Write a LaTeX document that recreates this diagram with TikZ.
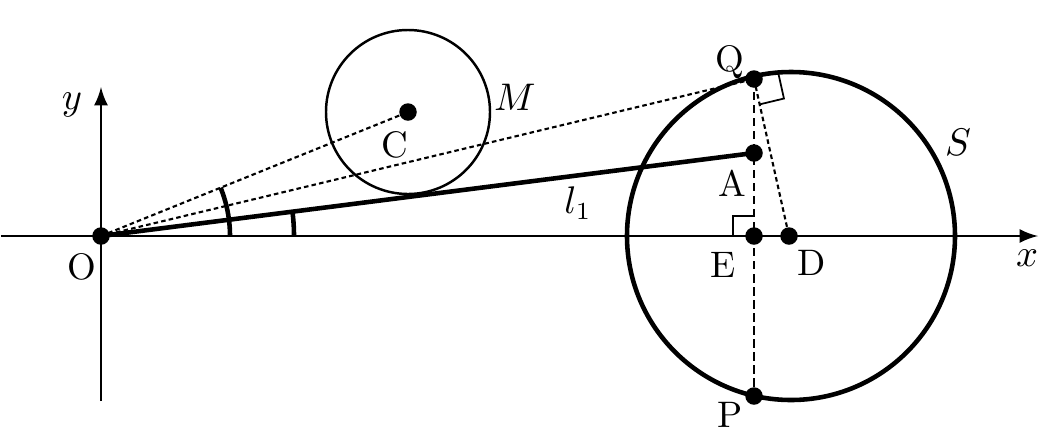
\documentclass[tikz,border=0pt]{standalone}
\usetikzlibrary{arrows,calc}
\begin{document}
\begin{tikzpicture}[>=latex,
  dot/.style={circle,fill=black,inner sep=0pt,minimum size=1.75mm},
  lbl/.style={font=\fontsize{10.5}{12}\selectfont, inner sep=1pt},
  guide/.style={dash pattern=on 1.3pt off 0.9pt, line width=0.6pt},
  vguide/.style={dash pattern=on 2.4pt off 1.3pt, line width=0.6pt}]
\useasboundingbox (-1.01,-2.08) rectangle (9.58,2.36);

% Axes
\path
(-1.0,0)  coordinate (xl)
(9.37,0)  coordinate (xr)
(0,-1.65) coordinate (yb)
(0,1.49)  coordinate (yt);
\draw[->, line width=0.8pt] (xl)--(xr);
\draw[->, line width=0.8pt] (yb)--(yt);

% Points
\path
(0,0)        coordinate (O)
(3.07,1.24)  coordinate (C)
(6.88,0)     coordinate (D)
(6.90,0)     coordinate (Sc)
(6.53,1.57)  coordinate (Q)
(6.53,0.83)  coordinate (A)
(6.53,0)     coordinate (E)
(6.53,-1.60) coordinate (P);

% Circles M and S
\draw[line width=0.7pt] (C) circle[radius=0.82];
\draw[line width=1.3pt] (Sc) circle[radius=1.64];

% Dashed lines
\draw[guide] (O)--(C);
\draw[guide] (O)--(Q);
\draw[vguide] (Q)--(P);
\draw[guide] (Q)--(D);

% l1
\draw[line width=1.3pt] (O)--(A);

% Right angles
\coordinate (qa) at ($(Q)!0.26cm!(D)$);
\coordinate (qb) at ($(Q)!-0.25cm!(O)$);
\draw[line width=0.5pt] (qa)--($(qa)+(qb)-(Q)$)--(qb);
\draw[line width=0.5pt] ($(E)+(-0.21,0)$)--++(0,0.2)--++(0.21,0);

% Angle marks
\draw[line width=1.3pt] (1.29,0) arc[start angle=0, end angle=21.99, radius=1.29];
\draw[line width=1.3pt] (1.93,0) arc[start angle=0, end angle=7.24, radius=1.93];

% Dots
\path
(O) node[dot] (dO) {}
(C) node[dot] (dC) {}
(Q) node[dot] (dQ) {}
(A) node[dot] (dA) {}
(E) node[dot] (dE) {}
(D) node[dot] (dD) {}
(P) node[dot] (dP) {};

% Labels
\path
(-0.29,1.31) node[lbl] (ly)  {$y$}
(9.26,-0.22) node[lbl] (lx)  {$x$}
(-0.19,-0.31) node[lbl] (lO) {O}
(2.94,0.91)  node[lbl] (lC)  {C}
(4.14,1.39)  node[lbl] (lM)  {$M$}
(6.29,1.74)  node[lbl] (lQ)  {Q}
(6.31,0.53)  node[lbl] (lA)  {A}
(6.22,-0.29) node[lbl] (lE)  {E}
(7.11,-0.27) node[lbl] (lD)  {D}
(6.29,-1.79) node[lbl] (lP)  {P}
(8.57,0.94)  node[lbl] (lS)  {$S$}
(4.77,0.33)  node[lbl] (ll)  {$l_1$};

\end{tikzpicture}
\end{document}
